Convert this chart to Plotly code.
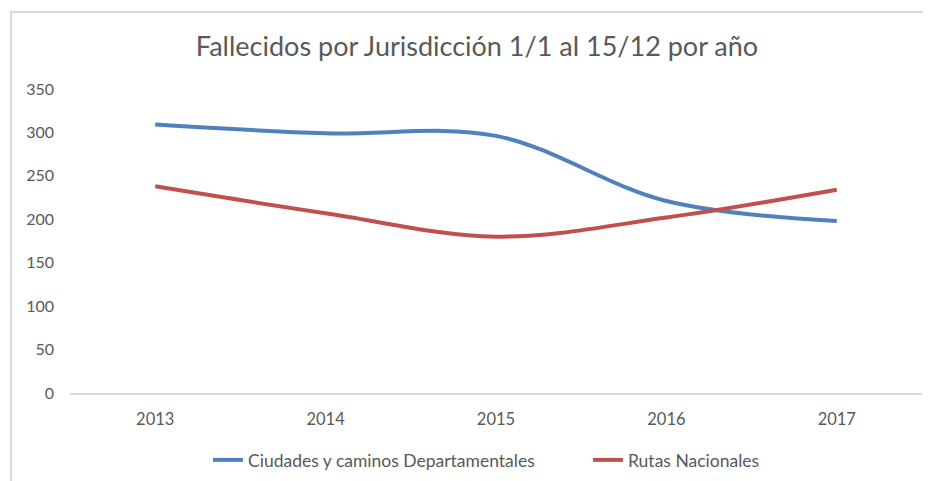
import plotly.graph_objects as go

years = ["2013", "2014", "2015", "2016", "2017"]
ciudades = [309, 299, 296, 221, 198]
rutas = [238, 207, 180, 202, 234]
y_ticks = [0, 50, 100, 150, 200, 250, 300, 350]

FONT = "Lato"
GRAY = "#595959"

# the page body adds an 8px offset; positions below are compensated for it
OFF = 8
L, R_EDGE, T, B_EDGE = 70 - OFF, 922 - OFF, 89 - OFF, 393 - OFF
PW, PH = R_EDGE - L, B_EDGE - T

fig = go.Figure()
fig.add_trace(go.Scatter(
    x=years, y=ciudades, mode="lines", name="Ciudades y caminos Departamentales",
    line=dict(color="#4f81bd", width=4, shape="spline", smoothing=1.0),
))
fig.add_trace(go.Scatter(
    x=years, y=rutas, mode="lines", name="Rutas Nacionales",
    line=dict(color="#c0504d", width=4, shape="spline", smoothing=1.0),
))

fig.update_layout(
    width=931, height=481,
    margin=dict(l=L, r=931 - R_EDGE, t=T, b=481 - B_EDGE, autoexpand=False),
    paper_bgcolor="white", plot_bgcolor="white",
    font=dict(family=FONT, color=GRAY, size=16),
    title=dict(text="Fallecidos por Jurisdicción 1/1 al 15/12 por año",
               x=(477 - OFF - L) / PW, xref="paper", xanchor="center",
               y=1 - (47 - OFF) / 481, yanchor="middle",
               font=dict(family=FONT, size=27, color=GRAY)),
    xaxis=dict(type="category", range=[-0.5, 4.5], showgrid=False,
               showline=True, linecolor="#d9d9d9", linewidth=2,
               ticks="", ticklabelstandoff=10, zeroline=False,
               automargin=False, tickfont=dict(size=16.5, color=GRAY)),
    yaxis=dict(range=[0, 350], tickvals=y_ticks, showgrid=False,
               showline=False, zeroline=False, ticks="", automargin=False,
               ticklabelstandoff=15, tickfont=dict(size=16, color=GRAY)),
    legend=dict(orientation="h", x=(208 - OFF - L) / PW, xanchor="left",
                y=(B_EDGE - (460 - OFF)) / PH, yanchor="middle",
                font=dict(size=17.5, color=GRAY), itemwidth=30,
                entrywidth=335, traceorder="normal"),
    showlegend=True,
)

# chart area border (top and left, as cropped in the reference)
xl = (11 - OFF - L) / PW
yt = (B_EDGE - (12 - OFF)) / PH
fig.add_shape(type="path", xref="paper", yref="paper",
              path=f"M {xl} -0.5 L {xl} {yt} L 1.2 {yt}",
              line=dict(color="#d9d9d9", width=2))

fig.write_html("out.html")
